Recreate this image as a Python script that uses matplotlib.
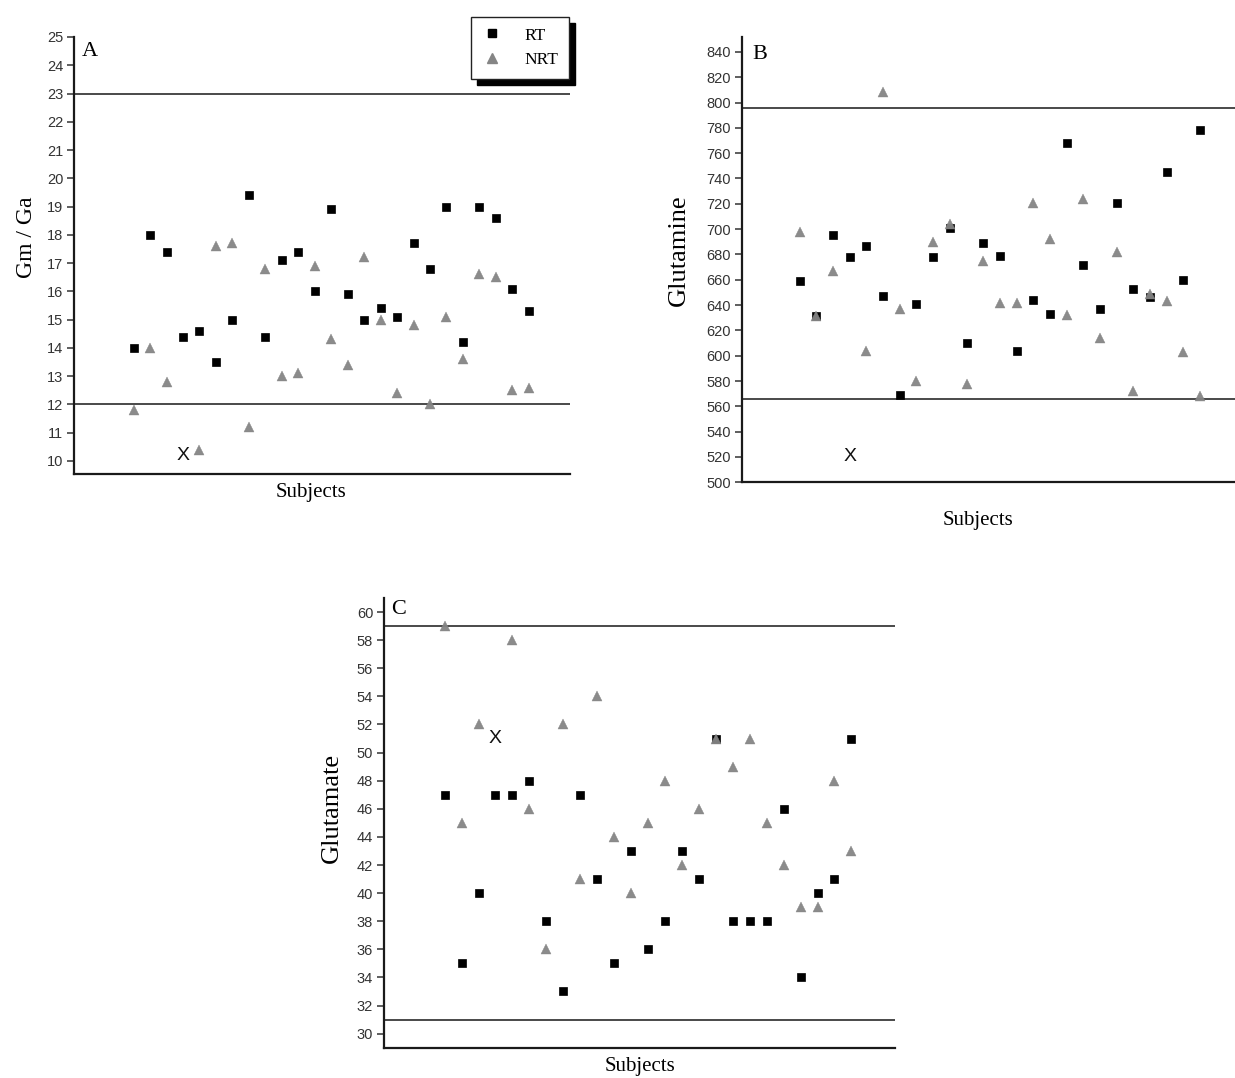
import matplotlib
matplotlib.use('Agg')
import matplotlib.pyplot as plt
import numpy as np
from matplotlib.lines import Line2D
from matplotlib.patches import Rectangle

# ---------------- data ----------------
subjects = list(range(25))

a_rt = [14.0, 18.0, 17.4, 14.4, 14.6, 13.5, 15.0, 19.4, 14.4, 17.1, 17.4, 16.0, 18.9,
        15.9, 15.0, 15.4, 15.1, 17.7, 16.8, 19.0, 14.2, 19.0, 18.6, 16.1, 15.3]
a_nrt = [11.8, 14.0, 12.8, np.nan, 10.4, 17.6, 17.7, 11.2, 16.8, 13.0, 13.1, 16.9, 14.3,
         13.4, 17.2, 15.0, 12.4, 14.8, 12.0, 15.1, 13.6, 16.6, 16.5, 12.5, 12.6]
a_refs = [12, 23]
a_x_mark = (3, 10.2)
a_ticks = list(range(10, 26))

b_rt = [659, 631, 695, 678, 687, 647, 569, 641, 678, 701, 610, 689, 679,
        604, 644, 633, 768, 672, 637, 721, 653, 646, 745, 660, 778]
b_nrt = [698, 631, 667, np.nan, 604, 808, 637, 580, 690, 704, 578, 675, 642,
         642, 721, 692, 632, 724, 614, 682, 572, 649, 643, 603, 568]
b_refs = [566, 796]
b_x_mark = (3, 520)
b_ticks = list(range(500, 841, 20))

c_rt = [47, 35, 40, 47, 47, 48, 38, 33, 47, 41, 35, 43, 36,
        38, 43, 41, 51, 38, 38, 38, 46, 34, 40, 41, 51]
c_nrt = [59, 45, 52, np.nan, 58, 46, 36, 52, 41, 54, 44, 40, 45,
         48, 42, 46, 51, 49, 51, 45, 42, 39, 39, 48, 43]
c_refs = [31, 59]
c_x_mark = (3, 51)
c_ticks = list(range(30, 61, 2))

series_labels = ['RT', 'NRT']
panel_letters = ['A', 'B', 'C']
y_labels = ['Gm / Ga', 'Glutamine', 'Glutamate']
x_label = 'Subjects'

# ---------------- style ----------------
W, H = 1235, 1078
fig = plt.figure(figsize=(W / 100, H / 100), dpi=100)
fig.patch.set_facecolor('white')

SERIF = ['Liberation Serif', 'DejaVu Serif']
SANS = ['Liberation Sans', 'DejaVu Sans']
RT_COLOR = '#000000'
NRT_COLOR = '#858585'
LINE_COLOR = '#3a3a3a'


def px_axes(l, t, r, b):
    return fig.add_axes([l / W, 1 - b / H, (r - l) / W, (b - t) / H])


def fig_text(x, y, s, **kw):
    return fig.text(x / W, 1 - y / H, s, **kw)


def panel(ax, rt, nrt, refs, xmark, ticks, xlim, ylim):
    ax.set_xlim(*xlim)
    ax.set_ylim(*ylim)
    for r in refs:
        ax.axhline(r, color=LINE_COLOR, lw=1.3, zorder=1)
    ax.plot(subjects, rt, ls='none', marker='s', ms=5.6, mfc=RT_COLOR, mec=RT_COLOR,
            mew=0.5, zorder=3)
    ax.plot(subjects, nrt, ls='none', marker='^', ms=6.6, mfc=NRT_COLOR, mec=NRT_COLOR,
            mew=0.3, zorder=4, alpha=0.95)
    ax.text(xmark[0], xmark[1], 'X', ha='center', va='center', fontsize=14,
            family=SANS, color='#111111', zorder=5)
    ax.set_yticks(ticks)
    ax.set_yticklabels([str(t) for t in ticks], family=SANS, fontsize=10.5, color='#333333')
    ax.set_xticks([])
    ax.tick_params(axis='y', direction='out', length=5, width=1.1, pad=3, color='#333333')
    for side in ['top', 'right']:
        ax.spines[side].set_visible(False)
    for side in ['left', 'bottom']:
        ax.spines[side].set_color('#1a1a1a')
        ax.spines[side].set_linewidth(1.6)
    ax.set_facecolor('none')


# Panel A
axA = px_axes(74.3, 37, 570, 474)
panel(axA, a_rt, a_nrt, a_refs, a_x_mark, a_ticks, (-3.6, 26.5), (9.54, 25))
# Panel B
axB = px_axes(741.7, 36.7, 1235, 482.3)
panel(axB, b_rt, b_nrt, b_refs, b_x_mark, b_ticks, (-3.48, 26.1), (500, 852))
# Panel C
axC = px_axes(384.3, 598, 895, 1047.7)
panel(axC, c_rt, c_nrt, c_refs, c_x_mark, c_ticks, (-3.56, 26.57), (29, 61))

# panel letters
fig_text(82, 42, panel_letters[0], family=SERIF, fontsize=16, va='top', ha='left')
fig_text(752, 45, panel_letters[1], family=SERIF, fontsize=16, va='top', ha='left')
fig_text(391, 600, panel_letters[2], family=SERIF, fontsize=16, va='top', ha='left')

# axis labels
fig_text(27, 237, y_labels[0], family=SERIF, fontsize=17, rotation=90, ha='center', va='center')
fig_text(679, 250, y_labels[1], family=SERIF, fontsize=19, rotation=90, ha='center', va='center')
fig_text(332, 808, y_labels[2], family=SERIF, fontsize=19, rotation=90, ha='center', va='center')
fig_text(311, 493, x_label, family=SERIF, fontsize=15, ha='center', va='center')
fig_text(978, 520, x_label, family=SERIF, fontsize=15, ha='center', va='center')
fig_text(640, 1067, x_label, family=SERIF, fontsize=15, ha='center', va='center')

# legend with black drop shadow (figure-level so the shadow can sit behind it)
handles = [
    Line2D([], [], ls='none', marker='s', ms=5.6, mfc=RT_COLOR, mec=RT_COLOR),
    Line2D([], [], ls='none', marker='^', ms=6.6, mfc=NRT_COLOR, mec=NRT_COLOR),
]
leg = fig.legend(handles, series_labels, loc='upper left',
                 bbox_to_anchor=(471 / W, 1 - 17 / H), bbox_transform=fig.transFigure,
                 borderaxespad=0, frameon=True, fancybox=False, framealpha=1,
                 edgecolor='#222222', prop={'family': SERIF, 'size': 12.5},
                 handlelength=1.2, handletextpad=1.3, labelspacing=0.5,
                 borderpad=0.6)
leg.get_frame().set_linewidth(1.0)
leg.set_zorder(20)

fig.canvas.draw()
bb = leg.get_window_extent()
shadow = Rectangle((bb.x0 + 6, bb.y0 - 6), bb.width, bb.height, transform=None,
                   facecolor='black', edgecolor='black', zorder=19)
fig.patches.append(shadow)

fig.savefig('out.png', dpi=100, facecolor='white')
